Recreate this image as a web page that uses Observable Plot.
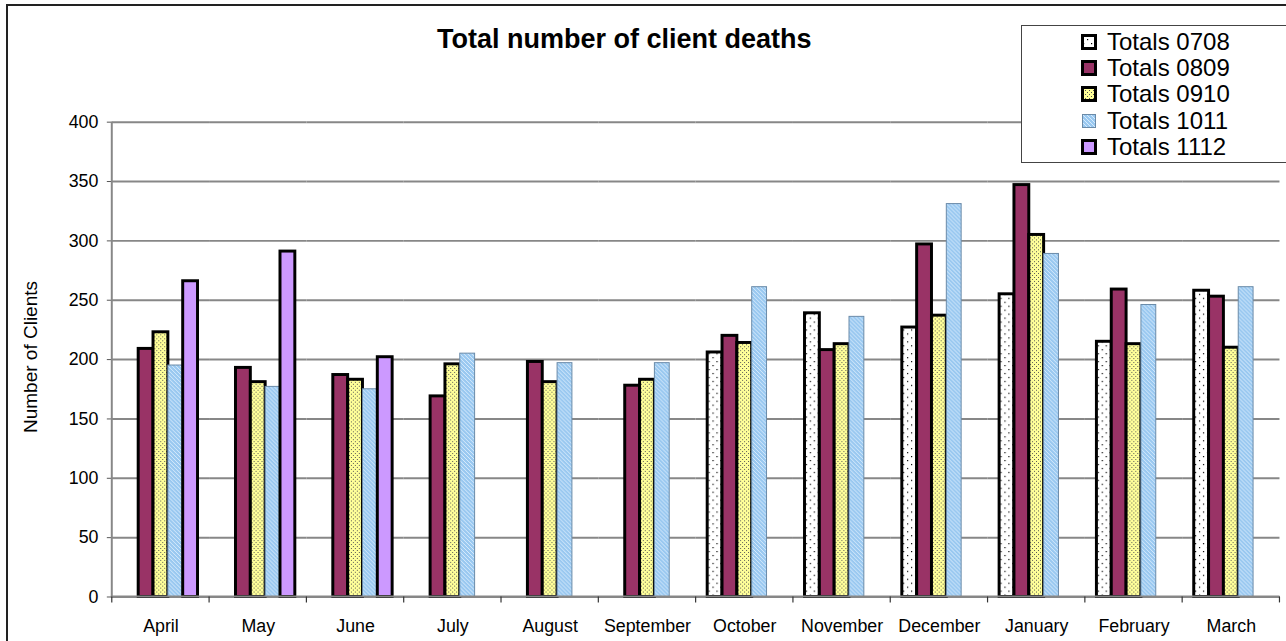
<!DOCTYPE html>
<html>
<head>
<meta charset="utf-8">
<script src="https://cdn.jsdelivr.net/npm/d3@7"></script>
<script src="https://cdn.jsdelivr.net/npm/@observablehq/plot@0.6"></script>
<style>
  html, body { margin: 0; padding: 0; overflow: hidden; background: #fff; }
  #wrap { position: relative; width: 1286px; height: 641px; overflow: hidden; font-family: Arial, "Liberation Sans", sans-serif; color: #000; }
  #plot { position: absolute; left: 0; top: 0; }
  #frame { position: absolute; left: 6px; top: 4px; width: 1320px; height: 700px; border: 2px solid #222; box-sizing: border-box; pointer-events: none; }
  #title { position: absolute; left: 437px; top: 26px; font-size: 27px; line-height: 27px; font-weight: bold; white-space: nowrap; }
  #ylabel { position: absolute; left: 31px; top: 357px; transform: translate(-50%, -50%) rotate(-90deg); font-size: 19px; white-space: nowrap; }
  #legend { position: absolute; left: 1021px; top: 25px; width: 290px; height: 138px; box-sizing: border-box; border: 1px solid #444; background: #fff; padding: 3px 0 0 59px; }
  #legend .item { display: flex; align-items: center; height: 26.2px; font-size: 24px; white-space: nowrap; }
  #legend .item svg { margin-right: 10px; flex: none; }
</style>
</head>
<body>
<div id="wrap">
  <div id="plot"></div>
  <div id="frame"></div>
  <div id="title">Total number of client deaths</div>
  <div id="ylabel">Number of Clients</div>
  <div id="legend"></div>
</div>
<script>
// ---- data ----
const months = ["April", "May", "June", "July", "August", "September", "October", "November", "December", "January", "February", "March"];
const series = ["Totals 0708", "Totals 0809", "Totals 0910", "Totals 1011", "Totals 1112"];
const t0708 = [null, null, null, null, null, null, 206, 239, 227, 255, 215, 258];
const t0809 = [209, 193, 187, 169, 198, 178, 220, 208, 297, 347, 259, 253];
const t0910 = [223, 181, 183, 196, 181, 183, 214, 213, 237, 305, 213, 210];
const t1011 = [195, 177, 175, 205, 197, 197, 261, 236, 331, 289, 246, 261];
const t1112 = [266, 291, 202, null, null, null, null, null, null, null, null, null];
const yTicks = [0, 50, 100, 150, 200, 250, 300, 350, 400];

// ---- table built from arrays ----
const seriesValues = [t0708, t0809, t0910, t1011, t1112];
const table = [];
series.forEach((s, si) => months.forEach((m, mi) => {
  const v = seriesValues[si][mi];
  if (v != null) table.push({month: m, series: s, value: v});
}));

// ---- styles ----
const seriesStyle = {
  "Totals 0708": {fill: "url(#pat0708)", stroke: "#000", strokeWidth: 3},
  "Totals 0809": {fill: "#993366", stroke: "#000", strokeWidth: 3},
  "Totals 0910": {fill: "url(#pat0910)", stroke: "#000", strokeWidth: 3},
  "Totals 1011": {fill: "url(#pat1011)", stroke: "#6a8aa8", strokeWidth: 1},
  "Totals 1112": {fill: "#CC99FF", stroke: "#000", strokeWidth: 3}
};
const gridColor = "#878787";

const W = 1300, H = 660;
const plot = Plot.plot({
  width: W,
  height: H,
  marginLeft: 113,
  marginRight: 6.6,
  marginTop: 123,
  marginBottom: 57,
  fx: {domain: months, padding: 0, label: null, tickSize: 0, tickPadding: 23, axis: "bottom", round: false},
  x: {domain: series, paddingInner: 0, paddingOuter: 0.78, axis: null, round: false},
  y: {domain: [0, 400], ticks: yTicks, tickSize: 5, tickPadding: 9, label: null, tickFormat: d => String(d)},
  style: {fontFamily: "Arial, 'Liberation Sans', sans-serif", fontSize: "18px", color: "#000", background: "transparent", overflow: "visible"},
  marks: [
    Plot.ruleY(yTicks, {stroke: gridColor, strokeWidth: 2}),
    ...series.map(s => Plot.barY(table.filter(d => d.series === s), {
      fx: "month", x: "series", y: "value",
      fill: seriesStyle[s].fill, stroke: seriesStyle[s].stroke, strokeWidth: seriesStyle[s].strokeWidth
    }))
  ]
});
document.getElementById("plot").appendChild(plot);

// ---- patterns ----
const svg = d3.select(plot);
const defs = svg.insert("defs", ":first-child");
const p1 = defs.append("pattern").attr("id", "pat0708").attr("patternUnits", "userSpaceOnUse").attr("width", 8).attr("height", 8);
p1.append("rect").attr("width", 8).attr("height", 8).attr("fill", "#fff");
p1.append("rect").attr("x", 2).attr("y", 1).attr("width", 1.2).attr("height", 1.2).attr("fill", "#000");
p1.append("rect").attr("x", 6).attr("y", 5).attr("width", 1.2).attr("height", 1.2).attr("fill", "#000");
const p2 = defs.append("pattern").attr("id", "pat0910").attr("patternUnits", "userSpaceOnUse").attr("width", 4).attr("height", 4);
p2.append("rect").attr("width", 4).attr("height", 4).attr("fill", "#FFFF99");
p2.append("rect").attr("x", 0).attr("y", 0).attr("width", 1).attr("height", 1).attr("fill", "#555");
p2.append("rect").attr("x", 2).attr("y", 2).attr("width", 1).attr("height", 1).attr("fill", "#555");
const p3 = defs.append("pattern").attr("id", "pat1011").attr("patternUnits", "userSpaceOnUse").attr("width", 4).attr("height", 4);
p3.append("rect").attr("width", 4).attr("height", 4).attr("fill", "#99C8F0");
p3.append("path").attr("d", "M-1,-1 L5,5 M-1,3 L1,5 M3,-1 L5,1").attr("stroke", "#D8EBFC").attr("stroke-width", 1);

// ---- axis lines and category boundary ticks from the library's scales ----
const fxs = plot.scale("fx");
const ys = plot.scale("y");
const x0 = fxs.range[0], x1 = fxs.range[1];
const step = (x1 - x0) / fxs.domain.length;
const yBase = ys.range[0], yTop = ys.range[1];
const g = svg.append("g").attr("stroke", gridColor).attr("stroke-width", 2);
g.append("line").attr("x1", x0).attr("x2", x0).attr("y1", yTop).attr("y2", yBase + 1);
g.append("line").attr("x1", x0 - 1).attr("x2", x1).attr("y1", yBase).attr("y2", yBase);
d3.range(fxs.domain.length + 1).forEach(i => {
  const x = x0 + i * step;
  g.append("line").attr("x1", x).attr("x2", x).attr("y1", yBase).attr("y2", yBase + 6).attr("stroke", "#333").attr("stroke-width", 1.2);
});
svg.selectAll("g[aria-label='y-axis'] line, g[aria-label='y-axis tick'] path").attr("stroke", "#555");

// ---- legend ----
const legend = d3.select("#legend");
series.forEach(s => {
  const st = seriesStyle[s];
  const item = legend.append("div").attr("class", "item");
  const sw = item.append("svg").attr("width", 16).attr("height", 16);
  sw.append("rect").attr("x", 1.5).attr("y", 1.5).attr("width", 13).attr("height", 13)
    .attr("fill", st.fill).attr("stroke", st.stroke).attr("stroke-width", st.strokeWidth);
  item.append("span").text(s);
});
</script>
</body>
</html>
